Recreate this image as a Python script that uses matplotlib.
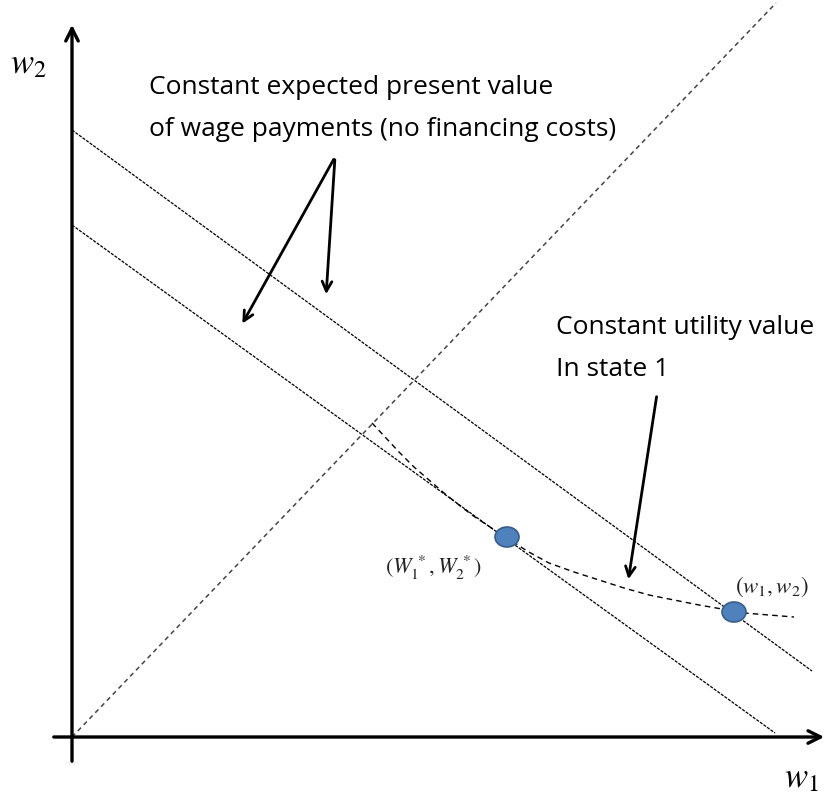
import matplotlib.pyplot as plt
from matplotlib.patches import Ellipse

# diagram units: 1 unit ~ 1 pixel, origin where the axes cross
x_min, x_max = -72, 756
y_min, y_max = -57, 737

# 45 degree line
diag_x = [0, 704]
diag_y = [0, 734]

# constant expected present value lines
upper_x = [0, 740]
upper_y = [607, 66]
lower_x = [0, 703]
lower_y = [512, 4]

# constant utility curve
curve_x = [300, 314, 327, 342, 357, 372, 387, 400, 412, 424, 434, 455, 477, 502, 527, 552,
           577, 602, 627, 650, 672, 697, 722]
curve_y = [314, 299, 285, 270, 257, 244, 232, 222, 214, 206, 200, 186, 174, 165, 157, 149,
           142, 137, 132, 128, 124, 122, 120]

# the two wage points
pts_x = [435, 662]
pts_y = [200, 125]
pt_labels = ['$(W_1^{\\,*}, W_2^{\\,*})$', '$(w_1, w_2)$']

plt.rcParams['mathtext.fontset'] = 'stix'

fig = plt.figure(figsize=(8.28, 7.94), dpi=100)
ax = fig.add_axes([0, 0, 1, 1])
ax.set_xlim(x_min, x_max)
ax.set_ylim(y_min, y_max)
ax.axis('off')

# axes with arrows
ax.annotate('', xy=(0, 715), xytext=(0, -27),
            arrowprops=dict(arrowstyle='->,head_length=0.9,head_width=0.45', lw=2.4, color='black'))
ax.annotate('', xy=(755, 0), xytext=(-21, 0),
            arrowprops=dict(arrowstyle='->,head_length=0.9,head_width=0.45', lw=2.4, color='black'))

ax.plot(diag_x, diag_y, color='#444444', lw=1.1, ls=(0, (3, 2.5)))
ax.plot(upper_x, upper_y, color='black', lw=0.9, ls=(0, (2.5, 1)))
ax.plot(lower_x, lower_y, color='black', lw=0.9, ls=(0, (2.5, 1)))
ax.plot(curve_x, curve_y, color='black', lw=1.0, ls=(0, (4, 3)))

for x, y in zip(pts_x, pts_y):
    ax.add_patch(Ellipse((x, y), 24, 20, facecolor='#4f81bd', edgecolor='#385d8a', lw=1.2, zorder=5))

ax.text(313, 169, pt_labels[0], fontsize=16, ha='left', va='center', color='#222222')
ax.text(663, 150, pt_labels[1], fontsize=16.5, ha='left', va='center', color='#222222')

ax.text(-62, 674, '$w_2$', fontsize=25, ha='left', va='center')
ax.text(712, -40, '$w_1$', fontsize=25, ha='left', va='center')

txt_font = {'family': 'Open Sans', 'size': 19, 'color': 'black'}
ax.text(77, 649, 'Constant expected present value', fontdict=txt_font, va='center')
ax.text(77, 607, 'of wage payments (no financing costs)', fontdict=txt_font, va='center')
ax.text(484, 409, 'Constant utility value', fontdict=txt_font, va='center')
ax.text(484, 367, 'In state 1', fontdict=txt_font, va='center')

arrow_kw = dict(arrowstyle='->,head_length=0.7,head_width=0.35', lw=2.0, color='black')
ax.annotate('', xy=(169, 411), xytext=(263, 580), arrowprops=arrow_kw)
ax.annotate('', xy=(254, 440), xytext=(263, 580), arrowprops=arrow_kw)
ax.annotate('', xy=(556, 155), xytext=(585, 343), arrowprops=arrow_kw)

fig.savefig('out.png', dpi=100)
